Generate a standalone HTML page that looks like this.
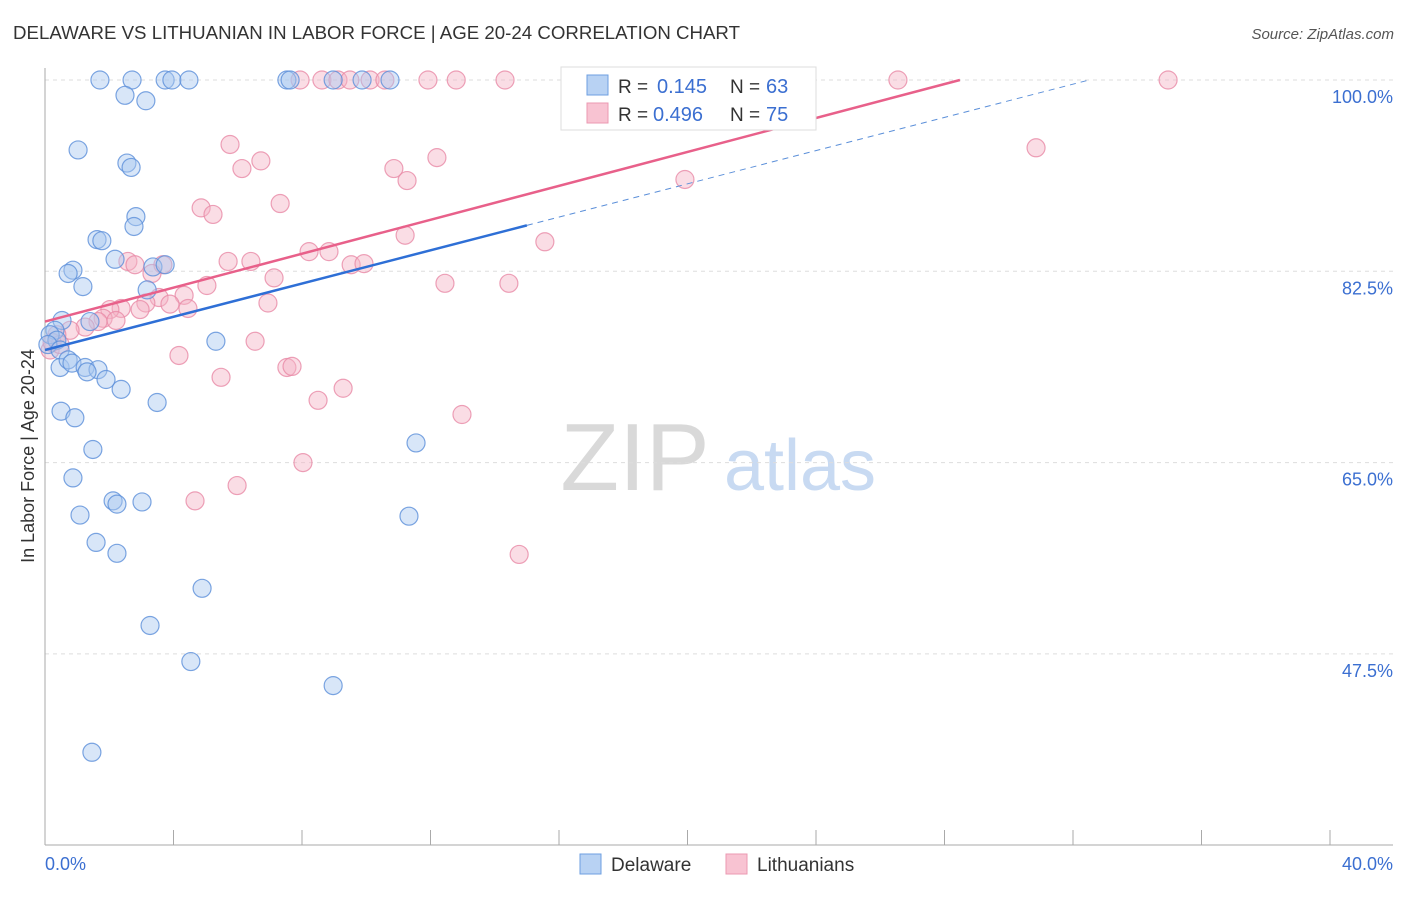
<!DOCTYPE html>
<html><head><meta charset="utf-8"><style>
body{margin:0;background:#fff;font-family:"Liberation Sans",sans-serif;}
svg text{font-family:"Liberation Sans",sans-serif;}
</style></head><body>
<svg id="chart" width="1406" height="892" xmlns="http://www.w3.org/2000/svg">
<text x="13" y="39" font-size="18" fill="#333" textLength="727" lengthAdjust="spacingAndGlyphs">DELAWARE VS LITHUANIAN IN LABOR FORCE | AGE 20-24 CORRELATION CHART</text>
<text x="1394" y="39" font-size="15" fill="#555" text-anchor="end" font-style="italic">Source: ZipAtlas.com</text>
<text transform="translate(34,456) rotate(-90)" font-size="18" fill="#333" text-anchor="middle">In Labor Force | Age 20-24</text>
<g>
<text x="635" y="490" font-size="96" fill="#d9d9d9" text-anchor="middle" font-family="Liberation Serif,serif">ZIP</text>
<text x="800" y="490" font-size="72" fill="#c8daf2" text-anchor="middle">atlas</text>
</g>
<g id="grid"></g>
<g id="axes"></g>
<g id="pts"></g>
<g id="lines"></g>
<g>
<rect x="561" y="67" width="255" height="63" fill="#fff" stroke="#ddd"/>
<rect x="587" y="75" width="21" height="20" fill="#b8d2f3" stroke="#6e9fe0"/>
<rect x="587" y="103" width="21" height="20" fill="#f8c3d2" stroke="#eb98b2"/>
<text x="618" y="93" font-size="19" fill="#333">R =</text>
<text x="657" y="93" font-size="20" fill="#3b6fd1">0.145</text>
<text x="730" y="93" font-size="19" fill="#333">N =</text>
<text x="766" y="93" font-size="20" fill="#3b6fd1">63</text>
<text x="618" y="121" font-size="19" fill="#333">R =</text>
<text x="653" y="121" font-size="20" fill="#3b6fd1">0.496</text>
<text x="730" y="121" font-size="19" fill="#333">N =</text>
<text x="766" y="121" font-size="20" fill="#3b6fd1">75</text>
</g>
<g>
<rect x="580" y="854" width="21" height="20" fill="#b8d2f3" stroke="#6e9fe0"/>
<text x="611" y="871" font-size="19" fill="#333">Delaware</text>
<rect x="726" y="854" width="21" height="20" fill="#f8c3d2" stroke="#eb98b2"/>
<text x="757" y="871" font-size="19" fill="#333">Lithuanians</text>
</g>
</svg>
<script>
const yTicks=[100,82.5,65,47.5];
const yTickLabels=["100.0%","82.5%","65.0%","47.5%"];
const xTickLabels=["0.0%","40.0%"];
const delawareX=[1.71,2.71,3.74,3.95,4.48,7.53,7.63,8.97,9.87,10.74,2.49,3.14,1.03,2.55,2.68,2.83,2.77,1.62,1.77,2.18,3.36,3.74,0.87,0.72,1.18,3.18,0.53,1.40,0.31,0.16,0.37,0.09,0.47,5.32,0.47,0.72,0.84,1.25,1.65,1.31,1.90,2.37,3.49,0.50,0.93,11.55,1.49,0.87,1.09,2.12,2.24,3.02,11.33,1.59,2.24,4.89,3.27,4.54,8.97,1.46];
const delawareY=[100,100,100,100,100,100,100,100,100,100,98.6,98.1,93.6,92.4,92.0,87.5,86.6,85.4,85.3,83.6,82.9,83.1,82.6,82.3,81.1,80.8,78.0,77.9,77.1,76.7,76.2,75.8,75.3,76.1,73.7,74.4,74.1,73.7,73.5,73.3,72.6,71.7,70.5,69.7,69.1,66.8,66.2,63.6,60.2,61.5,61.2,61.4,60.1,57.7,56.7,53.5,50.1,46.8,44.6,38.5];
const lithX=[7.94,8.62,9.12,9.49,10.12,10.58,11.92,12.80,14.32,16.65,22.76,26.55,34.96,30.85,5.76,6.72,6.13,12.20,10.86,11.27,19.92,4.86,5.23,7.32,11.21,15.56,8.22,8.84,5.70,6.41,2.58,2.80,9.53,9.93,3.67,3.33,7.13,5.04,12.45,14.44,4.33,3.55,6.94,3.89,4.45,3.14,2.37,2.02,2.96,1.81,2.21,1.65,1.25,0.78,0.37,0.16,6.54,4.17,7.53,7.69,5.48,9.28,8.50,12.98,8.03,4.67,5.98,14.76,0.22,0.47];
const lithY=[100,100,100,100,100,100,100,100,100,100,100,100,100,93.8,94.1,92.6,91.9,92.9,91.9,90.8,90.9,88.3,87.7,88.7,85.8,85.2,84.3,84.3,83.4,83.4,83.4,83.1,83.1,83.2,83.1,82.3,81.9,81.2,81.4,81.4,80.3,80.1,79.6,79.5,79.1,79.6,79.1,79.0,79.0,78.2,78.0,77.9,77.4,77.1,76.7,75.3,76.1,74.8,73.7,73.8,72.8,71.8,70.7,69.4,65.0,61.5,62.9,56.6,76.0,75.8];
const delawareTrend=[75.3,0.76];
const lithTrend=[77.9,0.776];
const NS="http://www.w3.org/2000/svg";
const X=v=>45+(v/40)*1285;
const Y=v=>80+(100-v)/17.5*191.3;
function mk(tag,attrs,parent){const e=document.createElementNS(NS,tag);for(const k in attrs)e.setAttribute(k,attrs[k]);parent.appendChild(e);return e;}
const grid=document.getElementById('grid'),axes=document.getElementById('axes'),pts=document.getElementById('pts'),lines=document.getElementById('lines');
yTicks.forEach((t,i)=>{
 const l=mk('line',{x1:45,x2:1393,y1:Y(t),y2:Y(t),stroke:'#ddd','stroke-dasharray':'4,4'},grid);
 
 
 const tx=mk('text',{x:1393,y:Y(t)+23,'font-size':18,fill:'#3b6fd1','text-anchor':'end'},axes);
 tx.textContent=yTickLabels[i];
 
 
});
const ya=mk('line',{x1:45,x2:45,y1:68,y2:845,stroke:'#aaa'},axes);


const xa=mk('line',{x1:45,x2:1393,y1:845,y2:845,stroke:'#aaa'},axes);


for(let i=0;i<=10;i++){
 const t=mk('line',{x1:X(i*4),x2:X(i*4),y1:830,y2:845,stroke:'#aaa'},axes);
 
 
}
const xl0=mk('text',{x:45,y:870,'font-size':18,fill:'#3b6fd1'},axes);xl0.textContent=xTickLabels[0];


const xl1=mk('text',{x:1393,y:870,'font-size':18,fill:'#3b6fd1','text-anchor':'end'},axes);xl1.textContent=xTickLabels[1];


function drawPts(xs,ys,fill,stroke,name){
 xs.forEach((x,i)=>{
  const c=mk('circle',{cx:X(x),cy:Y(ys[i]),r:9,fill:fill,'fill-opacity':0.45,stroke:stroke,'stroke-opacity':0.8,'stroke-width':1.2},pts);
  
  
 });
}
drawPts(lithX,lithY,'#f5b3c6','#e88aa6','lithuanians-point');
drawPts(delawareX,delawareY,'#a9c8f0','#5b8fd9','delaware-point');
function yAt(tr,x){return tr[0]+tr[1]*x;}
const xEndB=(100-delawareTrend[0])/delawareTrend[1];
const bd=mk('line',{x1:X(15),y1:Y(yAt(delawareTrend,15)),x2:X(xEndB),y2:Y(100),stroke:'#5b8fd9','stroke-width':1,'stroke-dasharray':'6,5'},lines);


const bl=mk('line',{x1:X(0),y1:Y(yAt(delawareTrend,0)),x2:X(15),y2:Y(yAt(delawareTrend,15)),stroke:'#2e6fd6','stroke-width':2.5},lines);


const xEndP=(100-lithTrend[0])/lithTrend[1];
const pl=mk('line',{x1:X(0),y1:Y(yAt(lithTrend,0)),x2:X(xEndP),y2:Y(100),stroke:'#e8608a','stroke-width':2.5},lines);


</script>
</body></html>
